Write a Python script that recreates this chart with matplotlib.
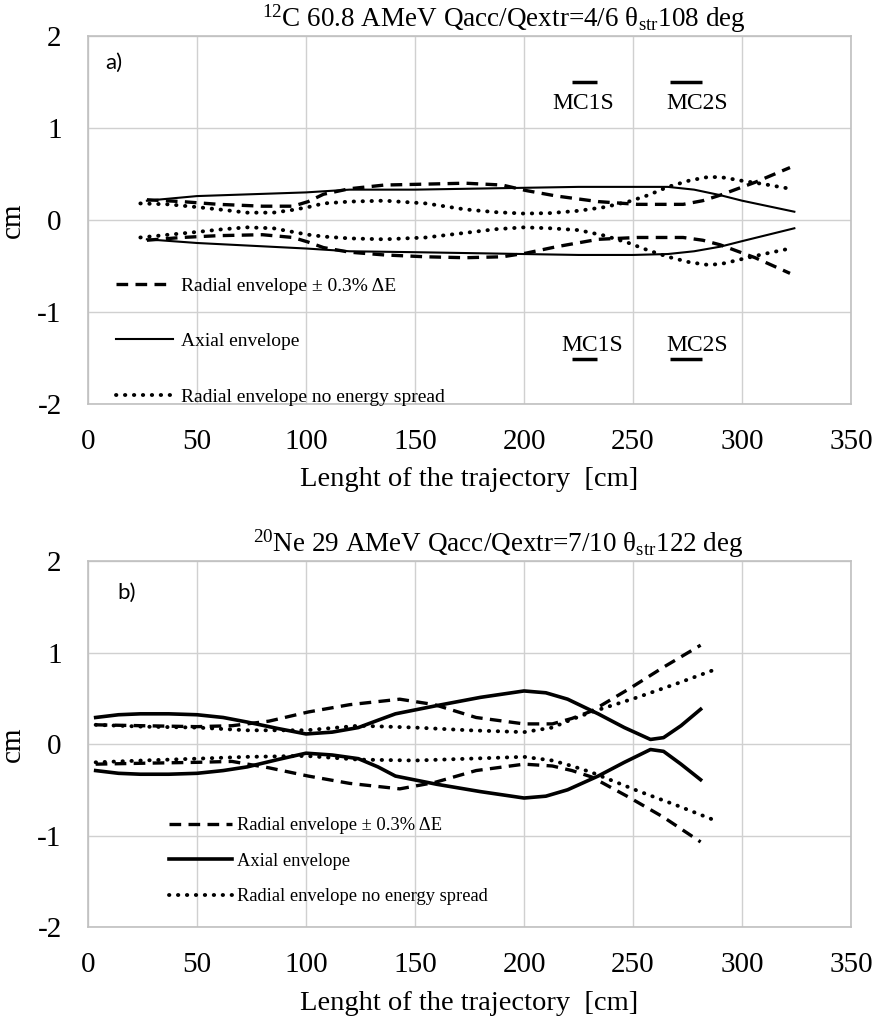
import matplotlib
matplotlib.use("Agg")
import matplotlib.pyplot as plt

plt.rcParams['font.family'] = ['Liberation Serif', 'DejaVu Serif']
plt.rcParams['mathtext.fontset'] = 'custom'
plt.rcParams['mathtext.rm'] = 'Liberation Serif'
plt.rcParams['mathtext.it'] = 'Liberation Serif:italic'
plt.rcParams['axes.unicode_minus'] = False

# ---- panel a) 12C ----
xa_ax = [27, 50, 75, 100, 120, 150, 175, 200, 225, 250, 266, 278, 290, 300, 312, 324]
a_ax_up = [0.21, 0.26, 0.28, 0.30, 0.33, 0.33, 0.34, 0.35, 0.36, 0.36, 0.36, 0.33, 0.27, 0.21, 0.15, 0.09]
a_ax_lo = [-0.21, -0.25, -0.28, -0.31, -0.34, -0.35, -0.36, -0.37, -0.38, -0.38, -0.37, -0.34, -0.29, -0.23, -0.16, -0.09]

xa_rad = [27, 43, 60, 80, 94, 101, 108, 120, 136, 155, 173, 190, 201, 215, 234, 252, 273, 282, 290, 306, 322]
a_rad_up = [0.22, 0.20, 0.17, 0.15, 0.15, 0.20, 0.28, 0.34, 0.38, 0.39, 0.40, 0.38, 0.32, 0.26, 0.20, 0.17, 0.17, 0.21, 0.27, 0.41, 0.57]
a_rad_lo = [-0.22, -0.19, -0.17, -0.16, -0.19, -0.24, -0.30, -0.35, -0.38, -0.40, -0.41, -0.40, -0.36, -0.29, -0.21, -0.19, -0.19, -0.22, -0.27, -0.41, -0.58]

xa_ne = [24, 37, 50, 62, 73, 85, 94, 101, 108, 120, 136, 155, 173, 187, 200, 212, 225, 237, 248, 257, 266, 276, 285, 292, 299, 310, 322]
a_ne_up = [0.18, 0.17, 0.14, 0.11, 0.08, 0.08, 0.11, 0.14, 0.18, 0.20, 0.21, 0.18, 0.115, 0.085, 0.07, 0.075, 0.10, 0.14, 0.20, 0.27, 0.36, 0.43, 0.47, 0.46, 0.43, 0.39, 0.34]
a_ne_lo = [-0.19, -0.16, -0.13, -0.10, -0.08, -0.09, -0.13, -0.16, -0.18, -0.20, -0.21, -0.19, -0.14, -0.10, -0.08, -0.09, -0.11, -0.17, -0.25, -0.33, -0.40, -0.46, -0.49, -0.47, -0.43, -0.37, -0.31]

# magnet channel markers
mc_names = ['MC1S', 'MC2S']
mc_x0 = [222, 267]
mc_x1 = [233.5, 281.5]
mc_tx_up = [227, 279.5]
mc_tx_lo = [231.5, 279.5]

# ---- panel b) 20Ne ----
xb_ax = [3.5, 14, 24, 37, 50, 62, 73, 87, 100, 112, 124, 133, 141, 160, 180, 200, 210, 220, 234, 246, 258, 264, 272, 281]
b_ax_up = [0.29, 0.32, 0.33, 0.33, 0.32, 0.29, 0.24, 0.17, 0.11, 0.13, 0.18, 0.26, 0.33, 0.42, 0.51, 0.58, 0.56, 0.49, 0.33, 0.18, 0.05, 0.07, 0.20, 0.38]
b_ax_lo = [-0.29, -0.32, -0.33, -0.33, -0.32, -0.29, -0.25, -0.17, -0.10, -0.12, -0.16, -0.25, -0.35, -0.44, -0.52, -0.59, -0.57, -0.50, -0.35, -0.20, -0.06, -0.08, -0.22, -0.39]

xb_rad = [3.5, 25, 50, 66, 83, 101, 120, 143, 159, 178, 200, 213, 222, 231, 248, 264, 281]
b_rad_up = [0.21, 0.20, 0.19, 0.20, 0.25, 0.35, 0.43, 0.49, 0.43, 0.29, 0.22, 0.22, 0.28, 0.36, 0.60, 0.84, 1.08]
b_rad_lo = [-0.22, -0.21, -0.20, -0.19, -0.26, -0.35, -0.43, -0.49, -0.42, -0.29, -0.22, -0.24, -0.29, -0.36, -0.58, -0.80, -1.07]

xb_ne = [3.5, 25, 50, 73, 100, 124, 150, 175, 200, 213, 222, 231, 252, 270, 286]
b_ne_up = [0.21, 0.19, 0.18, 0.15, 0.15, 0.20, 0.18, 0.15, 0.13, 0.18, 0.27, 0.35, 0.51, 0.66, 0.80]
b_ne_lo = [-0.20, -0.18, -0.16, -0.14, -0.13, -0.17, -0.18, -0.16, -0.14, -0.18, -0.24, -0.31, -0.51, -0.67, -0.82]

lab_rad = 'Radial envelope ± 0.3% ΔE'
lab_ax = 'Axial envelope'
lab_ne = 'Radial envelope no energy spread'

dash = (0, (3.5, 2.2))
dots = (0, (0.1, 2.2))

fig = plt.figure(figsize=(8.76, 10.23), dpi=100)
ax1 = fig.add_axes([0.1005, 0.6051, 0.871, 0.3597])
ax2 = fig.add_axes([0.1005, 0.0938, 0.871, 0.3578])


def style_axes(ax):
    ax.set_xlim(0, 350)
    ax.set_ylim(-2, 2)
    ax.set_xticks(range(0, 351, 50))
    ax.set_yticks([-2, -1, 0, 1, 2])
    ax.grid(True, color='#d0d0d0', lw=1)
    ax.set_axisbelow(True)
    for s in ax.spines.values():
        s.set_color('#c0c0c0')
        s.set_linewidth(1.2)
    ax.tick_params(length=0, labelsize=21)
    ax.tick_params(axis='y', pad=19)
    ax.tick_params(axis='x', pad=18)
    ax.set_xlabel('Lenght of the trajectory  [cm]', fontsize=20.5, labelpad=9)
    ax.set_ylabel('cm', fontsize=21, labelpad=8)


# panel a
ax1.plot(xa_rad, a_rad_up, color='black', lw=2.4, ls=dash, label=lab_rad)
ax1.plot(xa_rad, a_rad_lo, color='black', lw=2.4, ls=dash)
ax1.plot(xa_ax, a_ax_up, color='black', lw=1.5, label=lab_ax)
ax1.plot(xa_ax, a_ax_lo, color='black', lw=1.5)
ax1.plot(xa_ne, a_ne_up, color='black', lw=2.8, ls=dots, dash_capstyle='round', label=lab_ne)
ax1.plot(xa_ne, a_ne_lo, color='black', lw=2.8, ls=dots, dash_capstyle='round')
style_axes(ax1)
ax1.set_title(r'$^{12}$C 60.8 AMeV Qacc/Qextr=4/6 θ$_{\mathrm{str}}$108 deg', fontsize=19.5, pad=7, x=0.545)
ax1.text(0.022, 0.927, 'a)', transform=ax1.transAxes, fontsize=16, family='Lato', va='center')
ax1.legend(loc='upper left', bbox_to_anchor=(0.037, 0.345), frameon=False, fontsize=14,
           handlelength=2.9, handletextpad=0.45, labelspacing=1.95, borderpad=0, borderaxespad=0)
for name, x0, x1, tu, tl in zip(mc_names, mc_x0, mc_x1, mc_tx_up, mc_tx_lo):
    ax1.hlines([1.5, -1.51], x0, x1, color='black', lw=2.5)
    ax1.text(tu, 1.27, name, ha='center', va='center', fontsize=17)
    ax1.text(tl, -1.36, name, ha='center', va='center', fontsize=17)

# panel b
ax2.plot(xb_rad, b_rad_up, color='black', lw=2.4, ls=dash, label=lab_rad)
ax2.plot(xb_rad, b_rad_lo, color='black', lw=2.4, ls=dash)
ax2.plot(xb_ax, b_ax_up, color='black', lw=2.6, label=lab_ax)
ax2.plot(xb_ax, b_ax_lo, color='black', lw=2.6)
ax2.plot(xb_ne, b_ne_up, color='black', lw=2.8, ls=dots, dash_capstyle='round', label=lab_ne)
ax2.plot(xb_ne, b_ne_lo, color='black', lw=2.8, ls=dots, dash_capstyle='round')
style_axes(ax2)
ax2.set_title(r'$^{20}$Ne 29 AMeV Qacc/Qextr=7/10 θ$_{\mathrm{str}}$122 deg', fontsize=19.5, pad=7, x=0.537)
ax2.text(0.038, 0.913, 'b)', transform=ax2.transAxes, fontsize=16, family='Lato', va='center')
ax2.legend(loc='upper left', bbox_to_anchor=(0.106, 0.3), frameon=False, fontsize=13.3,
           handlelength=3.4, handletextpad=0.3, labelspacing=1.0, borderpad=0, borderaxespad=0)

fig.savefig('out.png', dpi=100)
